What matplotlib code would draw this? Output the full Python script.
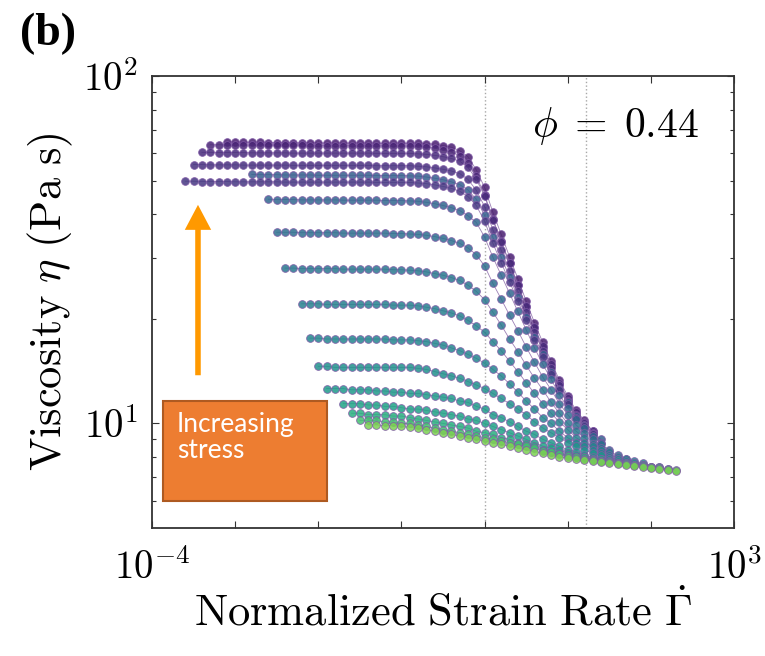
import numpy as np
import matplotlib
matplotlib.use("Agg")
import matplotlib.pyplot as plt
from matplotlib.patches import Rectangle
from matplotlib.ticker import FixedLocator, NullFormatter, NullLocator

plt.rcParams['mathtext.fontset'] = 'cm'
plt.rcParams['font.family'] = 'DejaVu Serif'

# log10 of the normalized strain rate where points were measured
log_rate = [-3.6, -3.5, -3.4, -3.3, -3.2, -3.1, -3.0, -2.9, -2.8, -2.7,
            -2.6, -2.5, -2.4, -2.3, -2.2, -2.1, -2.0, -1.9, -1.8, -1.7,
            -1.6, -1.5, -1.4, -1.3, -1.2, -1.1, -1.0, -0.9, -0.8, -0.7,
            -0.6, -0.5, -0.4, -0.3, -0.2, -0.1, 0.0, 0.1, 0.2, 0.3,
            0.4, 0.5, 0.6, 0.7, 0.8, 0.9, 1.0, 1.1, 1.2, 1.3,
            1.4, 1.5, 1.6, 1.7, 1.8, 1.9, 2.0, 2.1, 2.2, 2.3]

# first log10 rate of every flow curve (highest stress first)
curve_starts = [-3.1, -3.3, -3.4, -3.5, -2.8, -3.6, -2.6, -2.5, -2.4,
                -2.2, -2.1, -2.0, -1.9, -1.7, -1.6, -1.5, -1.4]

# viscosity (Pa s) of each curve
eta_01 = [64.6, 64.5, 64.5, 64.4, 64.4, 64.3, 64.3, 64.3, 64.2, 64.2,
          64.2, 64.2, 64.1, 64.1, 64.1, 64.1, 64.1, 64.0, 64.0, 64.0,
          64.0, 64.0, 64.0, 64.0, 63.9, 63.6, 63.1, 62.4,
          61.0, 58.6, 53.7, 47.8, 40.5, 35.0, 30.2, 26.1, 22.5, 19.5,
          17.1, 15.1, 13.3, 12.0, 10.9, 10.2, 9.5]
eta_02 = [63.4, 63.4, 63.3, 63.3, 63.3, 63.3, 63.2, 63.2, 63.2, 63.2,
          63.2, 63.2, 63.1, 63.1, 63.1, 63.1, 63.1, 63.0, 63.0, 63.0,
          63.0, 63.0, 63.0, 62.9, 62.9, 62.8, 62.5, 62.0, 61.3, 60.4,
          59.0, 56.3, 51.5, 45.5, 38.8, 33.4, 28.9, 25.0, 21.6, 18.8,
          16.5, 14.6, 13.0, 11.7, 10.7, 10.0, 9.4]
eta_03 = [60.3, 60.3, 60.2, 60.2, 60.2, 60.2, 60.1, 60.1, 60.1, 60.1,
          60.1, 60.0, 60.0, 60.0, 60.0, 60.0, 60.0, 60.0, 60.0, 60.0,
          60.0, 59.9, 59.9, 59.9, 59.9, 59.9, 59.7, 59.5, 59.1, 58.6,
          57.9,
          56.9, 54.6, 50.5, 45.1, 38.5, 33.3, 29.0, 25.1, 21.8, 18.9,
          16.7, 14.8, 13.1, 11.8, 10.8, 10.1, 9.5]
eta_04 = [55.6, 55.6, 55.5, 55.5, 55.5, 55.5, 55.4, 55.4, 55.4, 55.4,
          55.4, 55.4, 55.3, 55.3, 55.3, 55.3, 55.3, 55.3, 55.3, 55.3,
          55.3, 55.3, 55.2, 55.2, 55.2, 55.2, 55.2, 55.0, 54.8, 54.4,
          53.9, 53.3,
          52.4, 50.4, 46.9, 42.1, 36.1, 31.5, 27.5, 24.0, 20.9, 18.3,
          16.2, 14.4, 12.9, 11.6, 10.6, 10.0, 9.4]
eta_05 = [52.1, 52.0, 52.0, 52.0, 51.9, 51.9, 51.9, 51.9, 51.8, 51.8,
          51.8, 51.8, 51.8, 51.8, 51.8, 51.7, 51.7, 51.7, 51.7, 51.6,
          51.5, 51.2, 50.8, 50.3, 49.6,
          48.7, 47.0, 44.2, 39.7, 34.3, 30.1, 26.4, 23.1, 20.2, 17.7,
          15.8, 14.1, 12.6, 11.5, 10.5, 9.9, 9.3, 9.0]
eta_06 = [49.8, 49.8, 49.7, 49.7, 49.7, 49.7, 49.6, 49.6, 49.6, 49.6,
          49.6, 49.6, 49.5, 49.5, 49.5, 49.5, 49.5, 49.5, 49.5, 49.5,
          49.5, 49.5, 49.5, 49.4, 49.4, 49.4, 49.4, 49.4, 49.2, 49.0,
          48.6, 48.1, 47.5,
          46.6, 45.0, 42.4, 38.2, 33.0, 29.0, 25.6, 22.5, 19.8, 17.4,
          15.5, 13.9, 12.5, 11.4, 10.4, 9.8, 9.3]
eta_07 = [44.2, 44.1, 44.1, 44.1, 44.0, 44.0, 44.0, 44.0, 44.0, 43.9,
          43.9, 43.9, 43.9, 43.9, 43.8, 43.8, 43.8, 43.7, 43.6, 43.3,
          42.9, 42.4, 41.8,
          41.0, 39.6, 37.9, 34.4, 30.1, 26.7, 23.7, 21.0, 18.6, 16.5,
          14.8, 13.4, 12.1, 11.1, 10.3, 9.7, 9.2, 8.8]
eta_08 = [35.5, 35.5, 35.5, 35.4, 35.4, 35.4, 35.4, 35.4, 35.3, 35.3,
          35.3, 35.3, 35.3, 35.3, 35.2, 35.2, 35.1, 35.0, 34.8, 34.5,
          34.1, 33.6,
          33.0, 32.0, 30.6, 28.4, 25.3, 22.8, 20.5, 18.5, 16.6, 15.0,
          13.6, 12.5, 11.4, 10.6, 9.9, 9.4, 9.0, 8.7, 8.4]
eta_09 = [28.0, 28.0, 27.9, 27.9, 27.9, 27.9, 27.9, 27.8, 27.8, 27.8,
          27.8, 27.8, 27.8, 27.7, 27.7, 27.6, 27.5, 27.3, 27.0, 26.7,
          26.3,
          25.8, 25.0, 24.0, 22.7, 20.9, 19.2, 17.5, 16.1, 14.7, 13.5,
          12.5, 11.5, 10.7, 10.0, 9.5, 9.1, 8.7, 8.5, 8.3, 8.1]
eta_10 = [22.1, 22.1, 22.1, 22.0, 22.0, 22.0, 22.0, 22.0, 22.0, 22.0,
          22.0, 21.9, 21.9, 21.9, 21.8, 21.6, 21.4, 21.1, 20.8,
          20.4, 19.8, 19.1, 18.3, 17.2, 16.2, 15.1, 14.1, 13.1, 12.2,
          11.4, 10.7, 10.1, 9.6, 9.1, 8.8, 8.6, 8.4, 8.1, 8.0, 7.9]
eta_11 = [17.6, 17.6, 17.5, 17.5, 17.5, 17.5, 17.5, 17.5, 17.5, 17.5,
          17.4, 17.4, 17.4, 17.3, 17.2, 17.0, 16.8, 16.5,
          16.2, 15.8, 15.4, 14.9, 14.3, 13.7, 13.0, 12.3, 11.6, 11.0,
          10.4, 10.0, 9.5, 9.1, 8.8, 8.6, 8.4, 8.2, 8.0, 7.9, 7.9, 7.8]
eta_12 = [14.6, 14.6, 14.5, 14.5, 14.5, 14.5, 14.5, 14.5, 14.5, 14.5,
          14.5, 14.5, 14.4, 14.3, 14.1, 13.9, 13.7,
          13.5, 13.2, 12.9, 12.6, 12.2, 11.8, 11.4, 11.0, 10.6, 10.1,
          9.7, 9.4, 9.1, 8.8, 8.6, 8.4, 8.2, 8.1, 7.9, 7.9, 7.8, 7.7, 7.7]
eta_13 = [12.6, 12.6, 12.6, 12.5, 12.5, 12.5, 12.4, 12.4, 12.3, 12.3,
          12.2, 12.2, 12.1, 12.0, 11.9, 11.8,
          11.6, 11.5, 11.2, 11.0, 10.6, 10.4, 10.1, 9.8, 9.5, 9.3,
          9.0, 8.8, 8.6, 8.4, 8.3, 8.1, 8.0, 7.9, 7.9, 7.8, 7.7, 7.7,
          7.6, 7.5]
eta_14 = [11.4, 11.4, 11.4, 11.3, 11.3, 11.2, 11.2, 11.1, 11.0, 11.0,
          10.9, 10.8, 10.7, 10.6,
          10.5, 10.3, 10.2, 10.0, 9.8, 9.6, 9.4, 9.2, 9.0, 8.8,
          8.6, 8.5, 8.4, 8.2, 8.1, 8.0, 7.9, 7.9, 7.8, 7.7, 7.7, 7.6,
          7.6, 7.5, 7.5]
eta_15 = [10.7, 10.7, 10.6, 10.6, 10.6, 10.5, 10.5, 10.4, 10.3, 10.2,
          10.1, 10.0, 9.9,
          9.8, 9.7, 9.5, 9.4, 9.3, 9.1, 9.0, 8.8, 8.7, 8.6,
          8.4, 8.3, 8.2, 8.1, 8.0, 8.0, 7.9, 7.8, 7.8, 7.7, 7.7, 7.6,
          7.6, 7.5, 7.5, 7.4]
eta_16 = [10.2, 10.2, 10.2, 10.1, 10.1, 10.0, 10.0, 9.9, 9.8, 9.7,
          9.6, 9.5,
          9.4, 9.3, 9.2, 9.1, 9.0, 8.9, 8.8, 8.7, 8.6, 8.5,
          8.35, 8.25, 8.15, 8.05, 8.0, 7.9, 7.85, 7.8, 7.75, 7.7,
          7.65, 7.6, 7.55, 7.5, 7.45, 7.4, 7.35]
eta_17 = [9.9, 9.9, 9.85, 9.85, 9.8, 9.75, 9.7, 9.6, 9.5, 9.4, 9.3,
          9.2, 9.1, 9.0, 8.9, 8.8, 8.7, 8.6, 8.5, 8.4, 8.3,
          8.2, 8.1, 8.0, 7.95, 7.9, 7.85, 7.8, 7.75, 7.7, 7.65,
          7.6, 7.55, 7.5, 7.45, 7.4, 7.35, 7.3]

curves = [eta_01, eta_02, eta_03, eta_04, eta_05, eta_06, eta_07, eta_08,
          eta_09, eta_10, eta_11, eta_12, eta_13, eta_14, eta_15, eta_16,
          eta_17]

# colormap position of each curve
shade = [0.08, 0.10, 0.12, 0.14, 0.30, 0.16, 0.33, 0.36, 0.40, 0.43,
         0.46, 0.50, 0.54, 0.58, 0.63, 0.70, 0.80]

# dotted guide lines
guide_rates = [1.0, 16.6]

fig = plt.figure(figsize=(7.65, 6.56), dpi=100)
ax = fig.add_axes([0.1987, 0.1951, 0.7608, 0.689])
cmap = plt.get_cmap('viridis')

for g in guide_rates:
    ax.axvline(g, color='#a8a8a8', ls=':', lw=1.0, zorder=0)

for eta, s, c in zip(curves, curve_starts, shade):
    i0 = log_rate.index(s)
    rate = 10 ** np.array(log_rate[i0:i0 + len(eta)])
    ax.plot(rate, eta, '-o', color='#8a6aa8', lw=0.6, ms=5.6,
            mfc=cmap(c), mec=(0.5, 0.35, 0.65, 0.5), mew=0.6, alpha=0.85)

ax.set_xscale('log')
ax.set_yscale('log')
ax.set_xlim(1e-4, 1e3)
ax.set_ylim(5, 100)

decades = [1e-4, 1e-3, 1e-2, 1e-1, 1e0, 1e1, 1e2, 1e3]
ax.xaxis.set_major_locator(FixedLocator(decades))
ax.set_xticklabels([r'$10^{-4}$', '', '', '', '', '', '', r'$10^{3}$'])
ax.xaxis.set_minor_locator(NullLocator())
ax.yaxis.set_major_locator(FixedLocator([10, 100]))
ax.set_yticklabels([r'$10^{1}$', r'$10^{2}$'])
ax.yaxis.set_minor_locator(FixedLocator([6, 7, 8, 9, 20, 30, 40, 50, 60, 70, 80, 90]))
ax.yaxis.set_minor_formatter(NullFormatter())

ax.tick_params(which='both', direction='in', top=True, right=True,
               color='#333333', width=0.8)
ax.tick_params(which='major', length=5, labelsize=28, pad=10)
ax.tick_params(axis='x', which='major', pad=15)
ax.tick_params(which='minor', length=3)
for sp in ax.spines.values():
    sp.set_linewidth(1.3)
    sp.set_color('#333333')

ax.set_xlabel(r'$\mathrm{Normalized\ Strain\ Rate}\ \dot{\Gamma}$', fontsize=32, labelpad=2)
ax.set_ylabel(r'$\mathrm{Viscosity}\ \eta\ \mathrm{(Pa\ s)}$', fontsize=32, labelpad=6)

ax.text(0.94, 0.89, r'$\phi\;=\;0.44$', transform=ax.transAxes, ha='right',
        va='center', fontsize=30)

# arrow and note box
ax.annotate('', xy=(0.079, 0.715), xytext=(0.079, 0.338),
            xycoords='axes fraction', textcoords='axes fraction',
            arrowprops=dict(facecolor='#ff9900', edgecolor='none', width=4,
                            headwidth=19, headlength=18, shrink=0))
ax.add_patch(Rectangle((0.019, 0.060), 0.282, 0.221, transform=ax.transAxes,
                       facecolor='#ed7d31', edgecolor='#ae5a21', lw=1.5,
                       zorder=5, clip_on=False))
ax.text(0.043, 0.257, 'Increasing\nstress', transform=ax.transAxes,
        ha='left', va='top', color='white', fontsize=19, family='Lato',
        linespacing=1.05, zorder=6)

fig.text(0.026, 0.98, '(b)', ha='left', va='top', fontsize=33,
         family='Liberation Serif', weight='bold')

fig.savefig('out.png', dpi=100)
